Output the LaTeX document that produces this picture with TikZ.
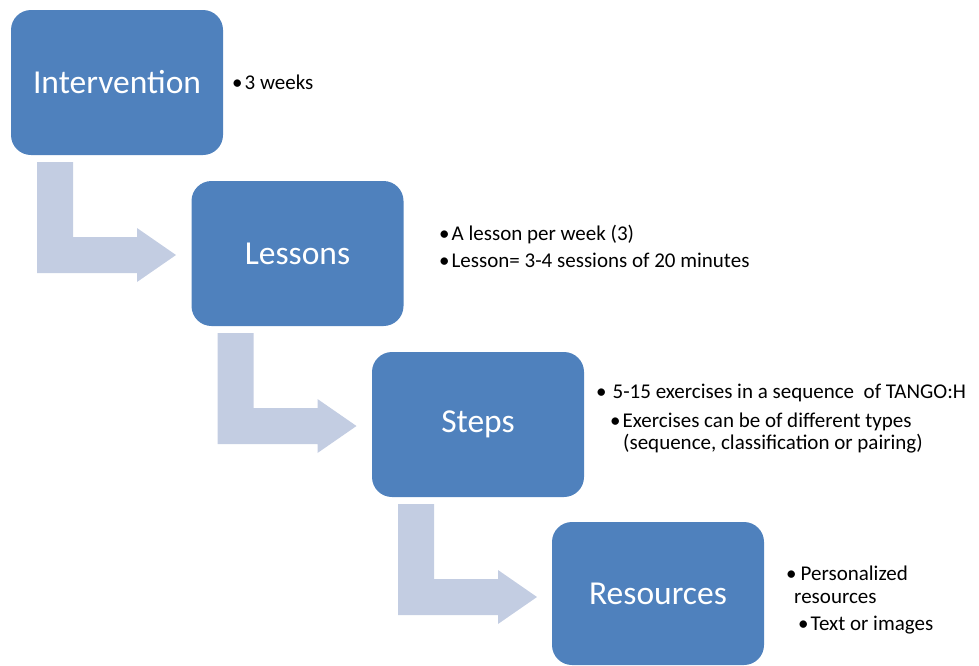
\documentclass[tikz,border=0pt]{standalone}
\usepackage{fontspec}
\setmainfont{Carlito}
\definecolor{boxblue}{HTML}{4F81BD}
\definecolor{arrowblue}{HTML}{C3CDE2}
\newcommand{\bul}[1]{\textbullet\hspace{#1}}
\begin{document}
\begin{tikzpicture}[x=1pt,y=-1pt,
  stagebox/.style={draw=none,fill=boxblue,rounded corners=20pt,minimum width=212pt,minimum height=145pt,inner sep=0pt,text=white,font=\fontsize{33.5}{40}\selectfont},
  info/.style={anchor=base west,inner sep=0pt,font=\fontsize{21}{25}\selectfont},
  bentarrow/.style={fill=arrowblue,draw=none}]
\useasboundingbox (0,0) rectangle (979,665);
% bent arrows
\foreach \k in {0,1,2}{
  \begin{scope}[shift={({180.5*\k},{171*\k})}]
    \fill[bentarrow] (37,162) -- (73,162) -- (73,237) -- (137,237) -- (137,228) -- (176,255) -- (137,282) -- (137,273) -- (37,273) -- cycle;
  \end{scope}
}
% boxes
\node[stagebox] (intervention) at (117,82.5) {Intervention};
\node[stagebox] (lessons) at (297.5,253.5) {Lessons};
\node[stagebox] (steps) at (478,424.5) {Steps};
\node[stagebox,minimum height=143pt] (resources) at (658,593.5) {Resources};
% texts
\node[info] (t1) at (232,89) {\bul{2pt}3 weeks};
\node[info] (t2) at (439,240) {\bul{2pt}A lesson per week (3)};
\node[info] (t3) at (439,267) {\bul{2pt}Lesson= 3-4 sessions of 20 minutes};
\node[info] (t4) at (596,398) {\bul{6pt}5-15 exercises in a sequence\ \ of TANGO:H};
\node[info] (t5) at (610,427) {\bul{2pt}Exercises can be of different types};
\node[info] (t6) at (623,449) {(sequence, classification or pairing)};
\node[info] (t7) at (786,580) {\bul{4pt}Personalized};
\node[info] (t8) at (794,603) {resources};
\node[info] (t9) at (798,630) {\bul{2pt}Text or images};
\end{tikzpicture}
\end{document}
